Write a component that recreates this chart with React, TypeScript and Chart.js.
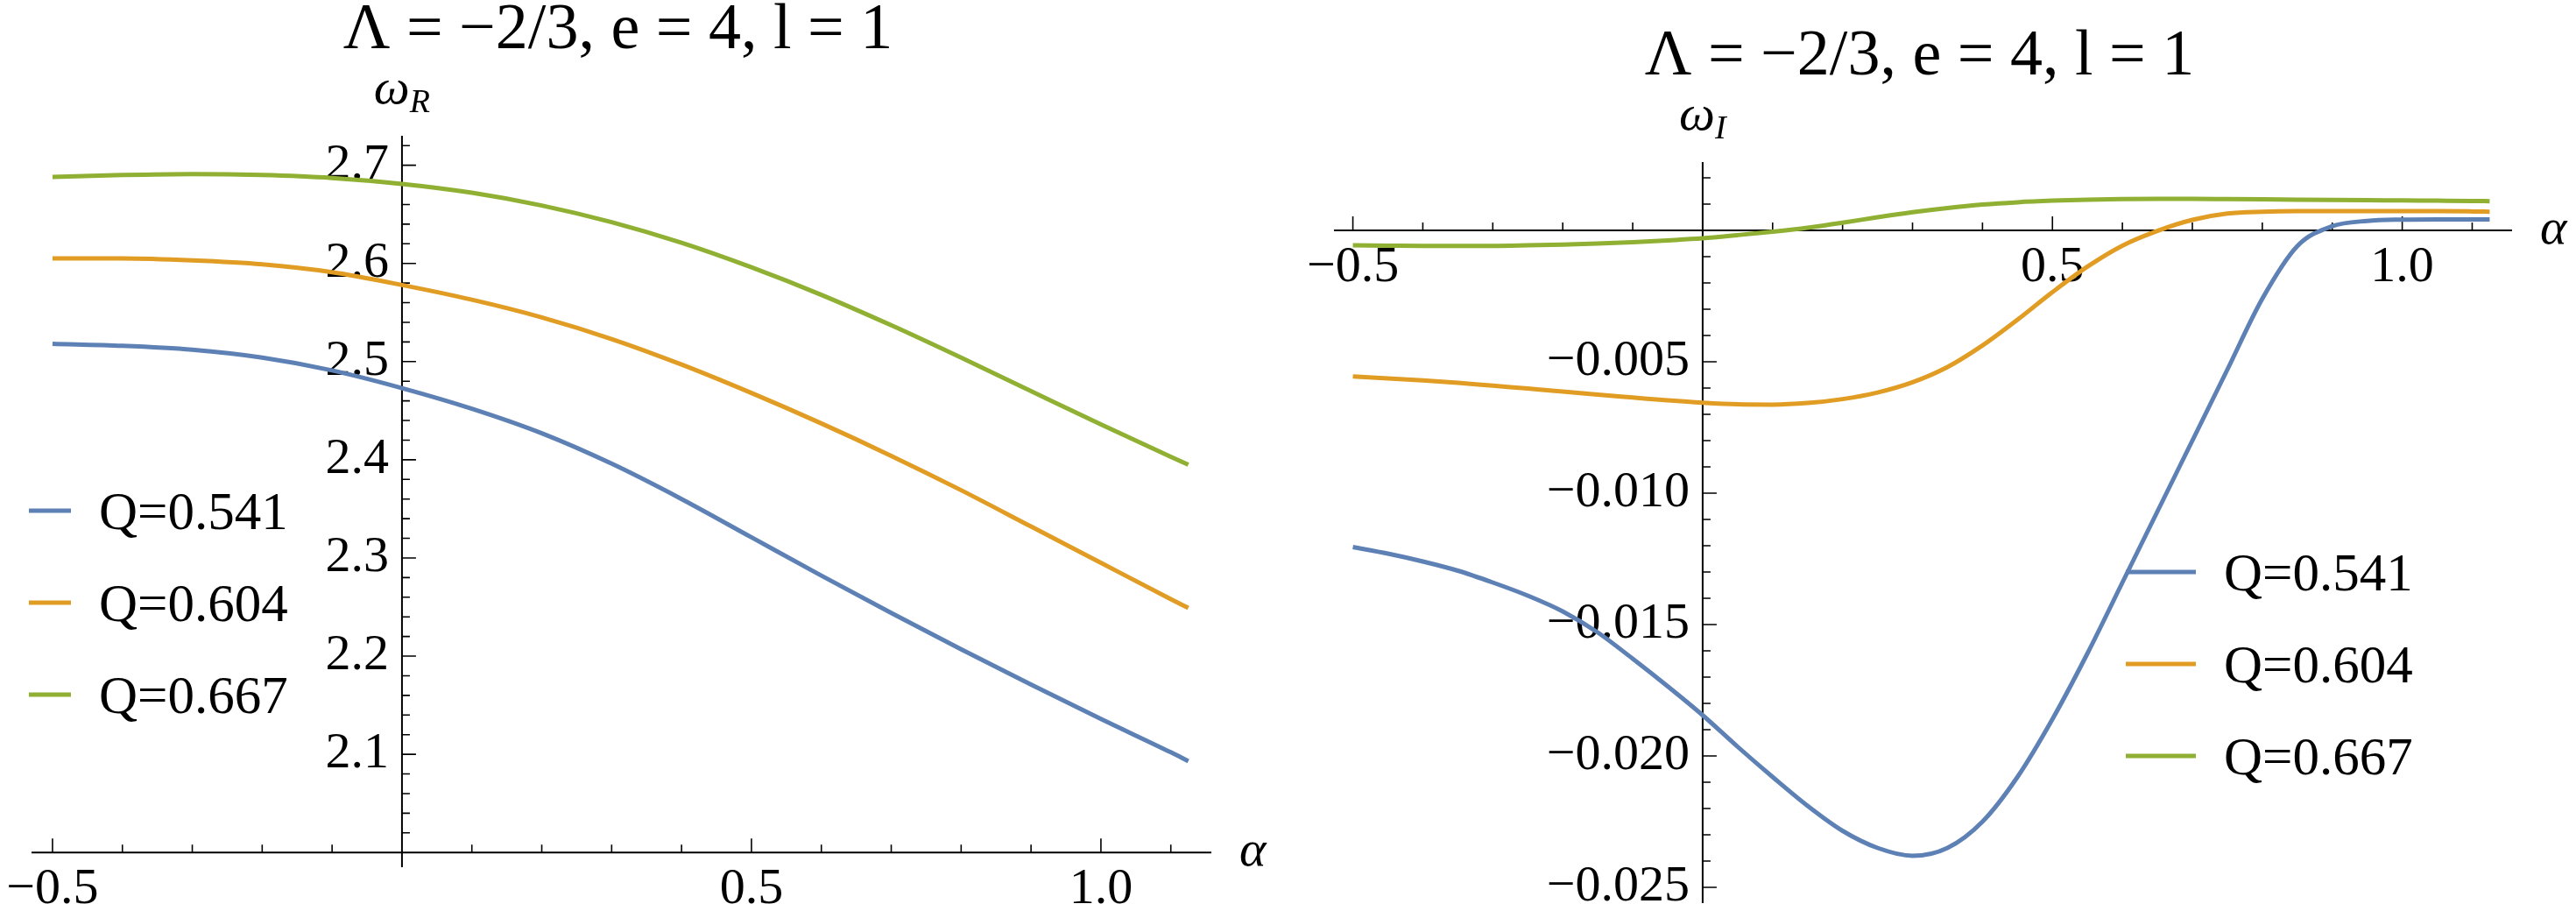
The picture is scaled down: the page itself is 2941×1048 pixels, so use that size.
import { useEffect, useRef } from 'react'
import { Chart, registerables } from 'chart.js'

Chart.register(...registerables)

const SERIF = '"Liberation Serif", "Times New Roman", serif'

const seriesNames = ['Q=0.541', 'Q=0.604', 'Q=0.667']
const seriesColors = ['#5e81b5', '#e19c24', '#8fb032']
const titleText = 'Λ = −2/3, e = 4, l = 1'

// real part, omega_R against alpha
const alphaReal = [-0.5, -0.4, -0.3, -0.2, -0.1, 0, 0.1, 0.2, 0.3, 0.4, 0.5, 0.6, 0.7, 0.8, 0.9, 1.0, 1.1, 1.125]
const omegaR541 = [2.518, 2.516, 2.512, 2.504, 2.491, 2.473, 2.452, 2.427, 2.396, 2.360, 2.321, 2.282, 2.244, 2.207, 2.171, 2.136, 2.102, 2.093]
const omegaR604 = [2.605, 2.605, 2.603, 2.599, 2.591, 2.578, 2.563, 2.545, 2.523, 2.497, 2.468, 2.437, 2.404, 2.369, 2.332, 2.295, 2.258, 2.249]
const omegaR667 = [2.688, 2.690, 2.691, 2.690, 2.687, 2.681, 2.672, 2.659, 2.642, 2.621, 2.596, 2.568, 2.537, 2.504, 2.470, 2.436, 2.403, 2.395]

// imaginary part, omega_I against alpha
const alphaImag = [
  -0.5, -0.45, -0.4, -0.35, -0.3, -0.25, -0.2, -0.15, -0.1, -0.05, 0, 0.05, 0.1, 0.15, 0.2, 0.25, 0.3,
  0.35, 0.4, 0.45, 0.5, 0.55, 0.6, 0.65, 0.7, 0.75, 0.8, 0.85, 0.9, 0.95, 1.0, 1.05, 1.1, 1.125,
]
const omegaI541 = [
  -0.01205, -0.0123, -0.0126, -0.01295, -0.0134, -0.0139, -0.0145, -0.0153, -0.0163, -0.01735, -0.01845,
  -0.01965, -0.0208, -0.0219, -0.02285, -0.0235, -0.0238, -0.0235, -0.0225, -0.0208, -0.0186, -0.0161,
  -0.0134, -0.0107, -0.008, -0.0053, -0.0026, -0.0006, 0.00016, 0.00036, 0.00041, 0.00042, 0.00042, 0.00042,
]
const omegaI604 = [
  -0.00556, -0.00563, -0.00571, -0.0058, -0.00591, -0.00602, -0.00613, -0.00625, -0.00636, -0.00647, -0.00656,
  -0.00662, -0.00663, -0.00657, -0.00642, -0.00617, -0.00578, -0.0052, -0.00438, -0.0034, -0.00235, -0.00138,
  -0.00058, -0.00002, 0.0004, 0.00064, 0.00071, 0.00073, 0.00073, 0.00073, 0.00073, 0.00073, 0.00072, 0.00071,
]
const omegaI667 = [
  -0.00057, -0.00058, -0.00059, -0.00059, -0.00059, -0.00057, -0.00054, -0.0005, -0.00045, -0.00038, -0.0003,
  -0.00018, -0.00005, 0.0001, 0.00029, 0.0005, 0.00069, 0.00085, 0.00098, 0.00107, 0.00113, 0.00117,
  0.00119, 0.0012, 0.0012, 0.00119, 0.00118, 0.00117, 0.00116, 0.00115, 0.00114, 0.00113, 0.00112, 0.00111,
]

// ticks
const xMajorTicks = [-0.5, 0.5, 1.0]
const xMajorLabels = ['−0.5', '0.5', '1.0']
const xMinorTicks = [-0.4, -0.3, -0.2, -0.1, 0.1, 0.2, 0.3, 0.4, 0.6, 0.7, 0.8, 0.9, 1.1]
const realMajorTicks = [2.1, 2.2, 2.3, 2.4, 2.5, 2.6, 2.7]
const realMajorLabels = ['2.1', '2.2', '2.3', '2.4', '2.5', '2.6', '2.7']
const imagMajorTicks = [-0.025, -0.02, -0.015, -0.01, -0.005]
const imagMajorLabels = ['−0.025', '−0.020', '−0.015', '−0.010', '−0.005']

const steps = (from: number, step: number, count: number) => {
  const out: number[] = []
  for (let i = 0; i < count; i++) out.push(from + i * step)
  return out
}

type Panel = {
  xRange: [number, number]
  yRange: [number, number]
  padding: { left: number; right: number; top: number; bottom: number }
  originY: number
  yMajor: number[]
  yLabels: string[]
  yMinor: number[]
  ySub: string
  legendX: number
  legendRows: number[]
  swatch: number
}

const realPanel: Panel = {
  xRange: [-0.53, 1.158],
  yRange: [1.985, 2.73],
  padding: { left: 36, right: 87, top: 155, bottom: 58 },
  originY: 2.0,
  yMajor: realMajorTicks,
  yLabels: realMajorLabels,
  yMinor: steps(2.02, 0.02, 36),
  ySub: 'R',
  legendX: 33,
  legendRows: [583, 688, 793],
  swatch: 48,
}

const imagPanel: Panel = {
  xRange: [-0.527, 1.157],
  yRange: [-0.0256, 0.0026],
  padding: { left: 53, right: 73, top: 185, bottom: 17 },
  originY: 0,
  yMajor: imagMajorTicks,
  yLabels: imagMajorLabels,
  yMinor: steps(-0.025, 0.001, 28).filter((v) => Math.abs(v) > 1e-9),
  ySub: 'I',
  legendX: 957,
  legendRows: [653, 758, 863],
  swatch: 80,
}

// axes through the origin with inward ticks, drawn like Mathematica does
const mathAxes = (p: Panel) => ({
  id: 'mathAxes',
  beforeDatasetsDraw(chart: any) {
    const { ctx, chartArea: a, scales } = chart
    const sx = scales.x
    const sy = scales.y
    const ox = sx.getPixelForValue(0)
    const oy = sy.getPixelForValue(p.originY)
    ctx.save()
    ctx.strokeStyle = '#000'
    ctx.lineWidth = 2
    ctx.beginPath()
    ctx.moveTo(a.left, oy)
    ctx.lineTo(a.right, oy)
    ctx.moveTo(ox, a.top)
    ctx.lineTo(ox, a.bottom)
    ctx.stroke()

    ctx.lineWidth = 1.6
    ctx.beginPath()
    xMinorTicks.forEach((v) => {
      const px = sx.getPixelForValue(v)
      ctx.moveTo(px, oy)
      ctx.lineTo(px, oy - 9)
    })
    xMajorTicks.forEach((v) => {
      const px = sx.getPixelForValue(v)
      ctx.moveTo(px, oy)
      ctx.lineTo(px, oy - 16)
    })
    p.yMinor.forEach((v) => {
      const py = sy.getPixelForValue(v)
      ctx.moveTo(ox, py)
      ctx.lineTo(ox + 9, py)
    })
    p.yMajor.forEach((v) => {
      const py = sy.getPixelForValue(v)
      ctx.moveTo(ox, py)
      ctx.lineTo(ox + 16, py)
    })
    ctx.stroke()

    ctx.fillStyle = '#000'
    ctx.textBaseline = 'alphabetic'
    ctx.font = `58px ${SERIF}`
    ctx.textAlign = 'center'
    xMajorTicks.forEach((v, i) => ctx.fillText(xMajorLabels[i], sx.getPixelForValue(v), oy + 58))
    ctx.textAlign = 'right'
    p.yMajor.forEach((v, i) => ctx.fillText(p.yLabels[i], ox - 15, sy.getPixelForValue(v) + 15))

    ctx.textAlign = 'left'
    ctx.font = `italic 58px ${SERIF}`
    ctx.fillText('α', a.right + 32, oy + 15)

    const big = `italic 58px ${SERIF}`
    const small = `italic 38px ${SERIF}`
    ctx.font = big
    const w1 = ctx.measureText('ω').width
    ctx.font = small
    const w2 = ctx.measureText(p.ySub).width
    const start = ox - (w1 + w2) / 2
    ctx.font = big
    ctx.fillText('ω', start, a.top - 37)
    ctx.font = small
    ctx.fillText(p.ySub, start + w1, a.top - 27)

    ctx.font = `74px ${SERIF}`
    ctx.textAlign = 'center'
    ctx.fillText(titleText, (a.left + a.right) / 2 - 4, a.top - 100)
    ctx.restore()
  },
  afterDatasetsDraw(chart: any) {
    const { ctx } = chart
    ctx.save()
    ctx.font = `61px ${SERIF}`
    ctx.textAlign = 'left'
    ctx.textBaseline = 'alphabetic'
    chart.data.datasets.forEach((ds: any, i: number) => {
      const y = p.legendRows[i]
      ctx.strokeStyle = ds.borderColor
      ctx.lineWidth = 5
      ctx.beginPath()
      ctx.moveTo(p.legendX, y)
      ctx.lineTo(p.legendX + p.swatch, y)
      ctx.stroke()
      ctx.fillStyle = '#000'
      ctx.fillText(ds.label, p.legendX + p.swatch + 32, y + 21)
    })
    ctx.restore()
  },
})

const buildConfig = (p: Panel, xs: number[], series: number[][]): any => ({
  type: 'line',
  data: {
    datasets: series.map((ys, i) => ({
      label: seriesNames[i],
      data: xs.map((x, j) => ({ x, y: ys[j] })),
      borderColor: seriesColors[i],
      borderWidth: 5,
      pointRadius: 0,
      fill: false,
      cubicInterpolationMode: 'monotone',
    })),
  },
  options: {
    responsive: false,
    animation: false,
    events: [],
    layout: { padding: p.padding },
    scales: {
      x: { type: 'linear', min: p.xRange[0], max: p.xRange[1], display: false },
      y: { type: 'linear', min: p.yRange[0], max: p.yRange[1], display: false },
    },
    plugins: {
      legend: { display: false },
      title: { display: false },
      tooltip: { enabled: false },
    },
  },
  plugins: [mathAxes(p)],
})

export default function App() {
  const realRef = useRef<HTMLCanvasElement>(null)
  const imagRef = useRef<HTMLCanvasElement>(null)

  useEffect(() => {
    const charts = [
      new Chart(realRef.current!, buildConfig(realPanel, alphaReal, [omegaR541, omegaR604, omegaR667])),
      new Chart(imagRef.current!, buildConfig(imagPanel, alphaImag, [omegaI541, omegaI604, omegaI667])),
    ]
    return () => charts.forEach((c) => c.destroy())
  }, [])

  return (
    <div
      style={{
        position: 'absolute',
        left: 0,
        top: 0,
        width: 2941,
        height: 1048,
        background: '#fff',
        display: 'flex',
      }}
    >
      <canvas ref={realRef} width={1470} height={1048} style={{ display: 'block' }} />
      <canvas ref={imagRef} width={1471} height={1048} style={{ display: 'block' }} />
    </div>
  )
}
